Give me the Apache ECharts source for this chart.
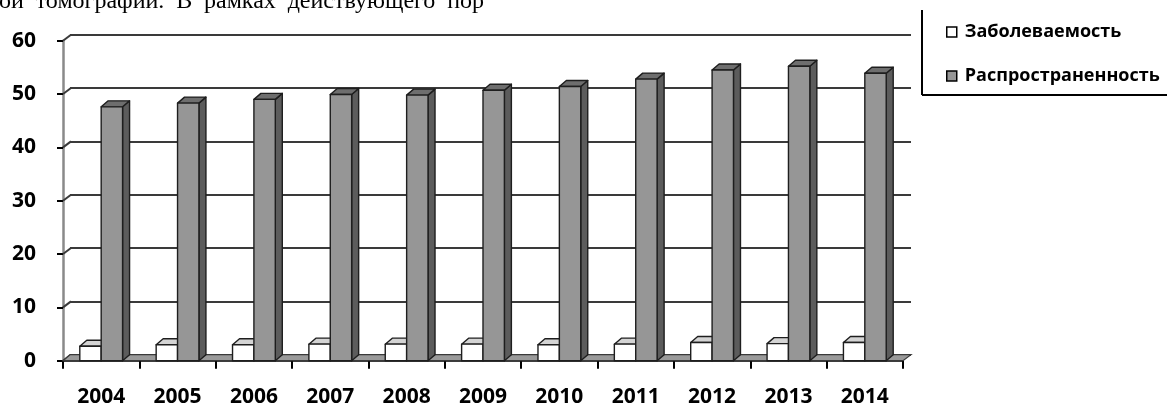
<!DOCTYPE html>
<html>
<head>
<meta charset="utf-8">
<style>
  html, body { margin: 0; padding: 0; background: #fff; }
  #chart { width: 1167px; height: 409px; }
</style>
<script src="https://cdn.jsdelivr.net/npm/echarts@6/dist/echarts.min.js"></script>
</head>
<body>
<div id="chart"></div>
<script>
// Years on the category axis
const years = ['2004', '2005', '2006', '2007', '2008', '2009', '2010', '2011', '2012', '2013', '2014'];
// Заболеваемость (white columns)
const incidence = [2.7, 3.0, 3.0, 3.1, 3.1, 3.1, 3.0, 3.1, 3.4, 3.2, 3.4];
// Распространенность (grey columns)
const prevalence = [47.6, 48.3, 49.0, 49.9, 49.8, 50.7, 51.4, 52.8, 54.5, 55.2, 53.9];
// Value-axis ticks
const yTicks = [0, 10, 20, 30, 40, 50, 60];
const seriesNames = ['Заболеваемость', 'Распространенность'];
// Fragment of the surrounding document line above the chart (justified text)
const headerWords = ['ой', 'томографии.', 'В', 'рамках', 'действующего', 'пор'];

// Pseudo-3D depth offset of the columns and the back wall
const DX = 7, DY = -6;
const EDGE = '#1e1e1e';
const LABEL_FONT = '"Open Sans", "DejaVu Sans", sans-serif';
const HEADER_FONT = '24px "Liberation Serif", "Times New Roman", serif';

function columnRenderer(leftOfCenter, faceColor, sideColor, topColor) {
  return function (params, api) {
    const cat = api.value(0);
    const val = api.value(1);
    const topPt = api.coord([cat, val]);
    const basePt = api.coord([cat, 0]);
    const band = api.size([1, 0])[0];
    const w = band * 0.28;
    const x0 = leftOfCenter ? topPt[0] - w : topPt[0];
    const x1 = x0 + w;
    const yt = topPt[1];
    const yb = basePt[1];
    const stroke = { stroke: EDGE, lineWidth: 1.4, lineJoin: 'round' };
    return {
      type: 'group',
      children: [
        { type: 'polygon', shape: { points: [[x1, yt], [x1 + DX, yt + DY], [x1 + DX, yb + DY], [x1, yb]] },
          style: Object.assign({ fill: sideColor }, stroke) },
        { type: 'polygon', shape: { points: [[x0, yt], [x1, yt], [x1 + DX, yt + DY], [x0 + DX, yt + DY]] },
          style: Object.assign({ fill: topColor }, stroke) },
        { type: 'rect', shape: { x: x0, y: yt, width: w, height: yb - yt },
          style: Object.assign({ fill: faceColor }, stroke) }
      ]
    };
  };
}

const chart = echarts.init(document.getElementById('chart'), null, { renderer: 'canvas' });

// Justify the header line between a left and right edge
const measureCtx = document.createElement('canvas').getContext('2d');
measureCtx.font = HEADER_FONT;
const lineLeft = -1, lineRight = 484;
const widths = headerWords.map(w => measureCtx.measureText(w).width);
const gap = (lineRight - lineLeft - widths.reduce((a, b) => a + b, 0)) / (headerWords.length - 1);
const graphics = [];
let cursor = lineLeft;
headerWords.forEach((w, i) => {
  graphics.push({
    type: 'text', x: cursor, y: 2, silent: true,
    style: { text: w, font: HEADER_FONT, fill: '#000', verticalAlign: 'middle' }
  });
  cursor += widths[i] + gap;
});
// Legend frame
graphics.push({ type: 'line', shape: { x1: 922, y1: 10, x2: 922, y2: 95 }, style: { stroke: '#000', lineWidth: 2 } });
graphics.push({ type: 'line', shape: { x1: 922, y1: 95, x2: 1167, y2: 95 }, style: { stroke: '#000', lineWidth: 2 } });

chart.setOption({
  animation: false,
  backgroundColor: '#fff',
  graphic: graphics,
  legend: {
    orient: 'vertical',
    left: 946, top: 22, padding: 0,
    itemWidth: 10, itemHeight: 10, itemGap: 24,
    icon: 'rect',
    selectedMode: false,
    data: [
      { name: seriesNames[0], itemStyle: { color: '#ffffff', borderColor: '#000', borderWidth: 1.5 } },
      { name: seriesNames[1], itemStyle: { color: '#969696', borderColor: '#000', borderWidth: 1.5 } }
    ],
    textStyle: { fontFamily: LABEL_FONT, fontWeight: 'bold', fontSize: 18, color: '#000', lineHeight: 20, padding: [0, 0, 0, 3] }
  },
  grid: [
    { left: 63, top: 40.7, width: 840, height: 320 },          // front plane
    { left: 70, top: 34.7, width: 841, height: 320 }           // back wall
  ],
  xAxis: [
    {
      type: 'category', gridIndex: 0, data: years, boundaryGap: true,
      axisLine: { show: true, lineStyle: { color: '#000', width: 1.5 } },
      axisTick: { show: true, length: 8, lineStyle: { color: '#000', width: 2 } },
      axisLabel: { fontFamily: LABEL_FONT, fontWeight: 'bold', fontSize: 21, color: '#000', margin: 26 },
      splitLine: { show: false }
    },
    { type: 'category', gridIndex: 1, data: years, show: false }
  ],
  yAxis: [
    {
      type: 'value', gridIndex: 0, min: 0, max: 60, interval: 10,
      axisLine: { show: true, lineStyle: { color: '#8a8a8a', width: 2.5 } },
      axisTick: { show: true, length: 6, lineStyle: { color: '#000', width: 2 } },
      axisLabel: { fontFamily: LABEL_FONT, fontWeight: 'bold', fontSize: 21, color: '#000', margin: 27 },
      splitLine: { show: false }
    },
    {
      type: 'value', gridIndex: 1, min: 0, max: 60, interval: 10,
      axisLine: { show: false }, axisTick: { show: false }, axisLabel: { show: false },
      splitLine: { show: true, lineStyle: { color: '#3a3a3a', width: 2 } }
    }
  ],
  series: [
    {
      // Side-wall diagonals joining the front axis to the back-wall gridlines
      type: 'custom', xAxisIndex: 0, yAxisIndex: 0, z: 1, silent: true,
      data: yTicks.map(v => [0, v]),
      renderItem: function (params, api) {
        const x = params.coordSys.x;
        const y = api.coord([0, api.value(1)])[1];
        return { type: 'line', shape: { x1: x, y1: y, x2: x + DX + 1, y2: y + DY },
                 style: { stroke: '#3a3a3a', lineWidth: 2 } };
      }
    },
    {
      // Floor slab
      type: 'custom', xAxisIndex: 0, yAxisIndex: 0, z: 2, silent: true,
      data: [[0, 0]],
      renderItem: function (params, api) {
        const cs = params.coordSys;
        const y0 = api.coord([0, 0])[1];
        return { type: 'polygon',
                 shape: { points: [[cs.x, y0], [cs.x + cs.width, y0], [cs.x + cs.width + DX + 1, y0 + DY], [cs.x + DX, y0 + DY]] },
                 style: { fill: '#9a9a9a', stroke: '#3a3a3a', lineWidth: 1.2 } };
      }
    },
    {
      name: seriesNames[0], type: 'custom', xAxisIndex: 0, yAxisIndex: 0, z: 3,
      itemStyle: { color: '#ffffff', borderColor: '#000' },
      encode: { x: 0, y: 1 },
      data: incidence.map((v, i) => [i, v]),
      renderItem: columnRenderer(true, '#ffffff', '#bdbdbd', '#d4d4d4')
    },
    {
      name: seriesNames[1], type: 'custom', xAxisIndex: 0, yAxisIndex: 0, z: 4,
      itemStyle: { color: '#969696', borderColor: '#000' },
      encode: { x: 0, y: 1 },
      data: prevalence.map((v, i) => [i, v]),
      renderItem: columnRenderer(false, '#969696', '#5c5c5c', '#6e6e6e')
    }
  ]
});
</script>
</body>
</html>
